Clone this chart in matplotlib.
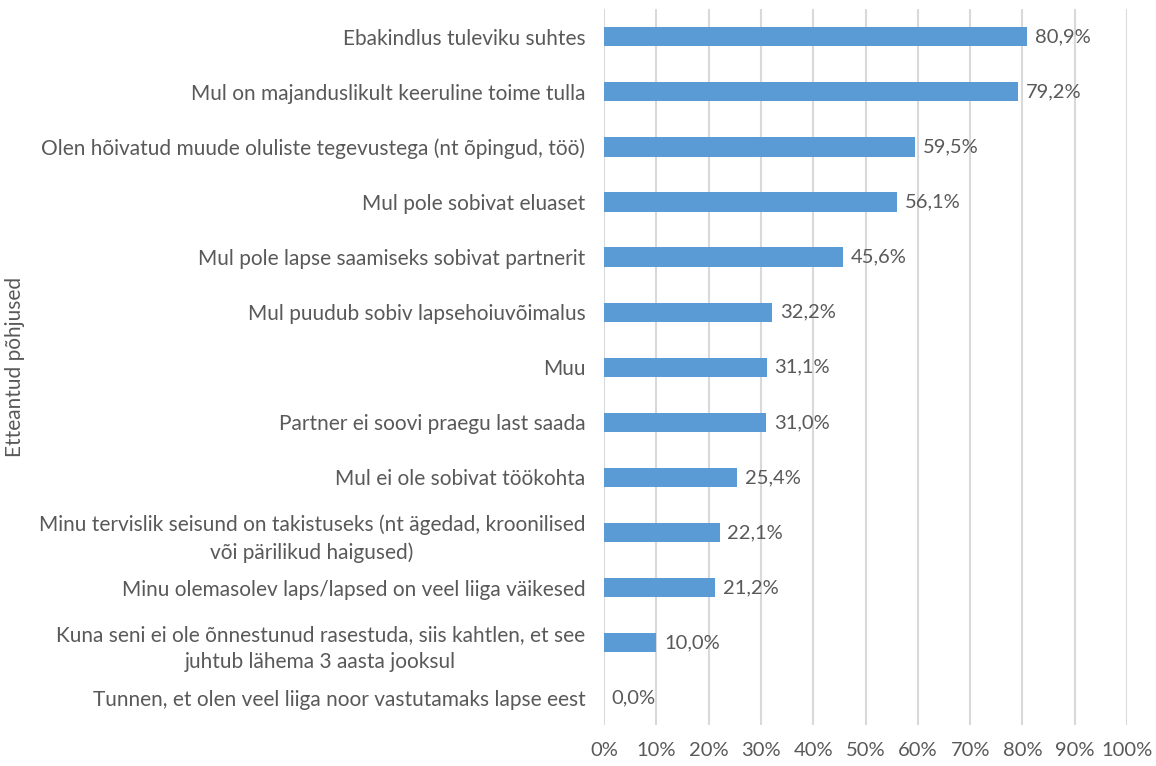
import matplotlib
matplotlib.use("Agg")
import matplotlib.pyplot as plt
from matplotlib.ticker import FuncFormatter

# data (top to bottom as in the chart)
categories = [
    "Ebakindlus tuleviku suhtes",
    "Mul on majanduslikult keeruline toime tulla",
    "Olen hõivatud muude oluliste tegevustega (nt õpingud, töö)",
    "Mul pole sobivat eluaset",
    "Mul pole lapse saamiseks sobivat partnerit",
    "Mul puudub sobiv lapsehoiuvõimalus",
    "Muu",
    "Partner ei soovi praegu last saada",
    "Mul ei ole sobivat töökohta",
    "Minu tervislik seisund on takistuseks (nt ägedad, kroonilised\nvõi pärilikud haigused)",
    "Minu olemasolev laps/lapsed on veel liiga väikesed",
    "Kuna seni ei ole õnnestunud rasestuda, siis kahtlen, et see\njuhtub lähema 3 aasta jooksul",
    "Tunnen, et olen veel liiga noor vastutamaks lapse eest",
]
values = [80.9, 79.2, 59.5, 56.1, 45.6, 32.2, 31.1, 31.0, 25.4, 22.1, 21.2, 10.0, 0.0]
x_ticks = list(range(0, 101, 10))

text_col = "#595959"
bar_col = "#5b9bd5"
grid_col = "#d9d9d9"
fs = 14.5

plt.rcParams["font.family"] = ["Lato", "DejaVu Sans"]

fig = plt.figure(figsize=(11.56, 7.66), dpi=100)
ax = fig.add_axes([0.5225, 0.053, 0.4525, 0.935])

ypos = list(range(len(categories)))
ax.barh(ypos, values, height=0.35, color=bar_col, zorder=3)
ax.set_ylim(len(categories) - 0.5, -0.5)
ax.set_xlim(0, 100)

for y, v in zip(ypos, values):
    ax.text(v + 1.5, y, f"{v:.1f}%".replace(".", ","), va="center", ha="left",
            fontsize=fs, color=text_col)

ax.set_yticks(ypos)
ax.set_yticklabels(categories, fontsize=15, color=text_col,
                   multialignment="center", linespacing=1.45)
ax.set_xticks(x_ticks)
ax.xaxis.set_major_formatter(FuncFormatter(lambda x, p: f"{x:.0f}%"))
ax.tick_params(axis="x", labelsize=fs, labelcolor=text_col, length=0, pad=12)
ax.tick_params(axis="y", length=0, pad=13.5)

ax.grid(axis="x", color=grid_col, linewidth=1.5, zorder=0)
for s in ax.spines.values():
    s.set_visible(False)

ax.set_ylabel("Etteantud põhjused", fontsize=15, color=text_col)
ax.yaxis.set_label_coords(-1.107, 0.5)

fig.savefig("out.png", dpi=100)
